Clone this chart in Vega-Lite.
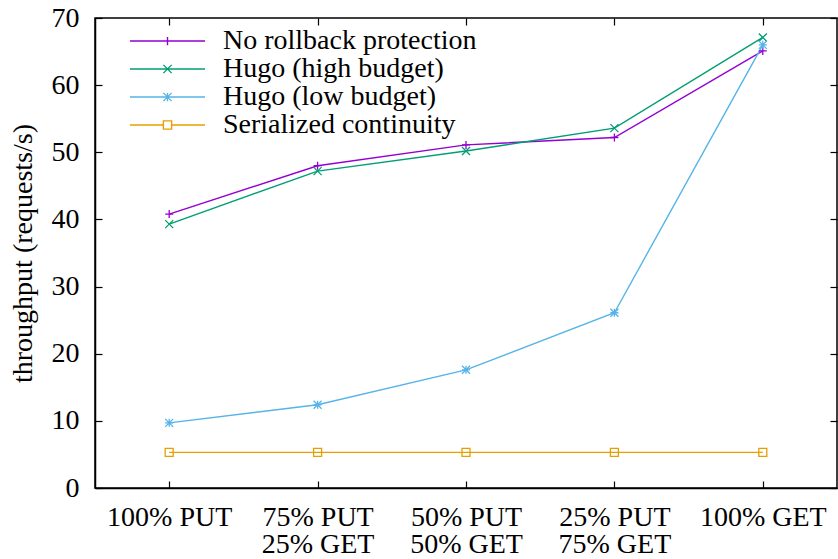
{
  "$schema": "https://vega.github.io/schema/vega-lite/v6.json",
  "autosize": "none",
  "width": 742,
  "height": 470,
  "padding": {"left": 95, "top": 18, "right": 1, "bottom": 71},
  "background": "white",
  "data": {
    "values": [
      {"workload": "100% PUT", "series": "No rollback protection", "throughput": 40.8},
      {"workload": "75% PUT|25% GET", "series": "No rollback protection", "throughput": 48.0},
      {"workload": "50% PUT|50% GET", "series": "No rollback protection", "throughput": 51.1},
      {"workload": "25% PUT|75% GET", "series": "No rollback protection", "throughput": 52.2},
      {"workload": "100% GET", "series": "No rollback protection", "throughput": 65.1},
      {"workload": "100% PUT", "series": "Hugo (high budget)", "throughput": 39.3},
      {"workload": "75% PUT|25% GET", "series": "Hugo (high budget)", "throughput": 47.2},
      {"workload": "50% PUT|50% GET", "series": "Hugo (high budget)", "throughput": 50.2},
      {"workload": "25% PUT|75% GET", "series": "Hugo (high budget)", "throughput": 53.6},
      {"workload": "100% GET", "series": "Hugo (high budget)", "throughput": 67.1},
      {"workload": "100% PUT", "series": "Hugo (low budget)", "throughput": 9.7},
      {"workload": "75% PUT|25% GET", "series": "Hugo (low budget)", "throughput": 12.4},
      {"workload": "50% PUT|50% GET", "series": "Hugo (low budget)", "throughput": 17.6},
      {"workload": "25% PUT|75% GET", "series": "Hugo (low budget)", "throughput": 26.1},
      {"workload": "100% GET", "series": "Hugo (low budget)", "throughput": 66.0},
      {"workload": "100% PUT", "series": "Serialized continuity", "throughput": 5.3},
      {"workload": "75% PUT|25% GET", "series": "Serialized continuity", "throughput": 5.3},
      {"workload": "50% PUT|50% GET", "series": "Serialized continuity", "throughput": 5.3},
      {"workload": "25% PUT|75% GET", "series": "Serialized continuity", "throughput": 5.3},
      {"workload": "100% GET", "series": "Serialized continuity", "throughput": 5.3}
    ]
  },
  "config": {
    "font": "Liberation Serif",
    "view": {"stroke": "black", "strokeWidth": 1.5},
    "axis": {
      "labelFont": "Liberation Serif",
      "titleFont": "Liberation Serif",
      "labelFontSize": 28,
      "titleFontSize": 28,
      "titleFontWeight": "normal",
      "labelColor": "black",
      "titleColor": "black",
      "domainColor": "black",
      "domainWidth": 1.5,
      "tickColor": "black",
      "tickWidth": 1.2,
      "tickSize": -7,
      "grid": false
    },
    "legend": {
      "labelFont": "Liberation Serif",
      "labelFontSize": 28,
      "labelColor": "black",
      "labelLimit": 500
    }
  },
  "encoding": {
    "x": {
      "field": "workload",
      "type": "nominal",
      "sort": ["100% PUT", "75% PUT|25% GET", "50% PUT|50% GET", "25% PUT|75% GET", "100% GET"],
      "scale": {"type": "point", "padding": 0.5}
    },
    "y": {
      "field": "throughput",
      "type": "quantitative",
      "scale": {"domain": [0, 70], "nice": false}
    },
    "color": {
      "field": "series",
      "type": "nominal",
      "sort": ["No rollback protection", "Hugo (high budget)", "Hugo (low budget)", "Serialized continuity"],
      "scale": {
        "domain": ["No rollback protection", "Hugo (high budget)", "Hugo (low budget)", "Serialized continuity"],
        "range": ["#9400d3", "#009e73", "#56b4e9", "#e69f00"]
      }
    }
  },
  "layer": [
    {
      "mark": {"type": "line", "strokeWidth": 1.4},
      "encoding": {
        "x": {
          "field": "workload",
          "type": "nominal",
          "sort": ["100% PUT", "75% PUT|25% GET", "50% PUT|50% GET", "25% PUT|75% GET", "100% GET"],
          "scale": {"type": "point", "padding": 0.5},
          "axis": {
            "orient": "bottom",
            "title": null,
            "labelAngle": 0,
            "labelPadding": 22,
            "labelLineHeight": 27,
            "labelExpr": "split(datum.label, '|')"
          }
        },
        "y": {
          "field": "throughput",
          "type": "quantitative",
          "scale": {"domain": [0, 70], "nice": false},
          "axis": {
            "orient": "left",
            "title": "throughput (requests/s)",
            "values": [0, 10, 20, 30, 40, 50, 60, 70],
            "labelPadding": 23,
            "titlePadding": 14
          }
        },
        "color": {
          "field": "series",
          "type": "nominal",
          "legend": {
            "orient": "none",
            "legendX": 34,
            "legendY": 9,
            "title": null,
            "padding": 0,
            "rowPadding": 0,
            "clipHeight": 28,
            "symbolSize": 5625,
            "symbolStrokeWidth": 1.4,
            "symbolFillColor": "transparent",
            "labelOffset": 17,
            "encode": {
              "symbols": {
                "update": {
                  "shape": {"signal": "datum.value === 'No rollback protection' ? 'M-1,0L1,0M0,-0.11L0,0.11' : datum.value === 'Hugo (high budget)' ? 'M-1,0L1,0M-0.11,-0.11L0.11,0.11M-0.11,0.11L0.11,-0.11' : datum.value === 'Hugo (low budget)' ? 'M-1,0L1,0M-0.11,-0.11L0.11,0.11M-0.11,0.11L0.11,-0.11M0,-0.11L0,0.11' : 'M-1,0L-0.11,0M0.11,0L1,0M-0.11,-0.11L0.11,-0.11L0.11,0.11L-0.11,0.11Z'"},
                  "fill": {"value": "transparent"},
                  "strokeWidth": {"value": 1.4}
                }
              }
            }
          }
        }
      }
    },
    {
      "mark": {"type": "point", "filled": false, "size": 64, "strokeWidth": 1.3, "opacity": 1},
      "encoding": {
        "x": {
          "field": "workload",
          "type": "nominal",
          "sort": ["100% PUT", "75% PUT|25% GET", "50% PUT|50% GET", "25% PUT|75% GET", "100% GET"],
          "scale": {"type": "point", "padding": 0.5},
          "axis": {"orient": "top", "title": null, "labels": false, "domain": false}
        },
        "y": {
          "field": "throughput",
          "type": "quantitative",
          "scale": {"domain": [0, 70], "nice": false},
          "axis": {"orient": "right", "title": null, "labels": false, "domain": false, "values": [0, 10, 20, 30, 40, 50, 60, 70]}
        },
        "shape": {
          "field": "series",
          "type": "nominal",
          "legend": null,
          "scale": {
            "domain": ["Hugo (high budget)", "Hugo (low budget)", "No rollback protection", "Serialized continuity"],
            "range": ["M-1,-1L1,1M-1,1L1,-1", "M-1,0L1,0M0,-1L0,1M-1,-1L1,1M-1,1L1,-1", "M-1,0L1,0M0,-1L0,1", "M-1,-1L1,-1L1,1L-1,1Z"]
          }
        }
      }
    }
  ],
  "resolve": {"axis": {"x": "independent", "y": "independent"}}
}
